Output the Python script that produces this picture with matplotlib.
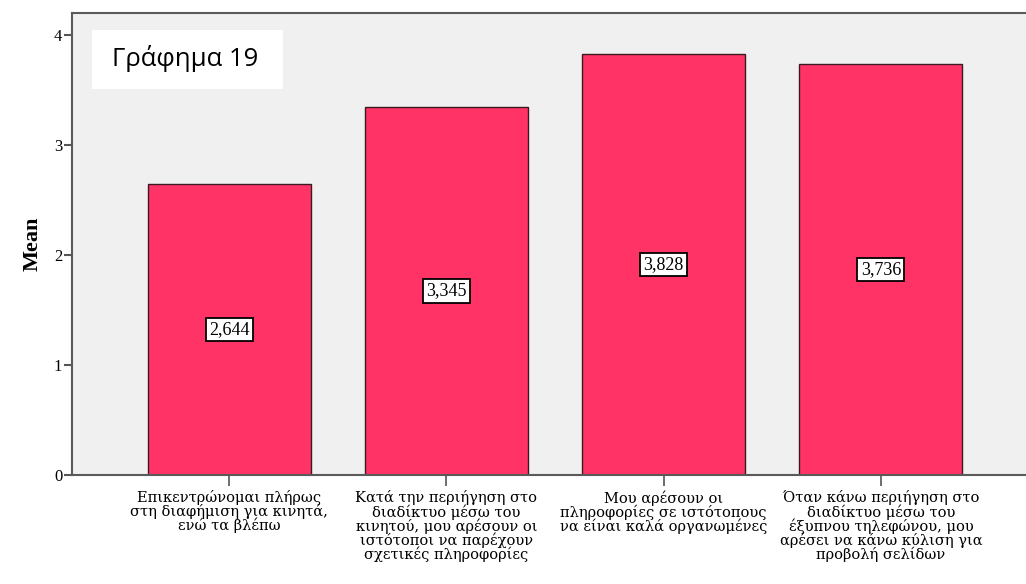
import matplotlib.pyplot as plt
import numpy as np

categories = [
    "Επικεντρώνομαι πλήρως\nστη διαφήμιση για κινητά,\nενώ τα βλέπω",
    "Κατά την περιήγηση στο\nδιαδίκτυο μέσω του\nκινητού, μου αρέσουν οι\nιστότοποι να παρέχουν\nσχετικές πληροφορίες",
    "Μου αρέσουν οι\nπληροφορίες σε ιστότοπους\nνα είναι καλά οργανωμένες",
    "Όταν κάνω περιήγηση στο\nδιαδίκτυο μέσω του\nέξυπνου τηλεφώνου, μου\nαρέσει να κάνω κύλιση για\nπροβολή σελίδων",
]
means = [2.644, 3.345, 3.828, 3.736]
yticks = [0, 1, 2, 3, 4]

fig = plt.figure(figsize=(10.26, 5.84), dpi=100)
fig.patch.set_facecolor("white")
ax = fig.add_axes([72 / 1026, 1 - 475 / 584, 966 / 1026, 462 / 584])
ax.set_facecolor("#F0F0F0")

x = np.arange(len(means))
ax.bar(x, means, width=0.75, color="#FF3366", edgecolor="#3a1a22", linewidth=1.0, zorder=2)

# value boxes sit halfway up each bar
for xi, m in zip(x, means):
    ax.text(xi, m / 2, f"{m:.3f}".replace(".", ","), ha="center", va="center",
            family="Liberation Serif", fontsize=13, zorder=3,
            bbox=dict(boxstyle="square,pad=0.18", fc="white", ec="black", lw=1.3))

ax.set_xlim(-0.723, 3.723)
ax.set_ylim(0, 4.2)
ax.set_yticks(yticks)
ax.set_yticklabels([str(t) for t in yticks], family="Liberation Serif", fontsize=12)
ax.set_xticks(x)
ax.set_xticklabels(categories, family="DejaVu Serif", fontsize=10.5, linespacing=0.9)
ax.tick_params(axis="y", length=6, width=1.5, color="#555555", pad=1)
ax.tick_params(axis="x", length=8, width=1.2, color="#555555", pad=3)

for side in ["left", "bottom", "top"]:
    ax.spines[side].set_color("#5a5a5a")
    ax.spines[side].set_linewidth(1.5)
ax.spines["right"].set_visible(False)

ax.set_ylabel("Mean", family="Liberation Serif", fontweight="bold", fontsize=16, labelpad=8)

fig.patches.append(plt.Rectangle((92 / 1026, 1 - 89 / 584), 191 / 1026, 59 / 584,
                                 transform=fig.transFigure, fc="white", ec="none", zorder=5))
fig.text(185 / 1026, 1 - 58 / 584, "Γράφημα 19", ha="center", va="center",
         family="Open Sans", fontsize=18.5, zorder=6)

fig.savefig("out.png", dpi=100)
